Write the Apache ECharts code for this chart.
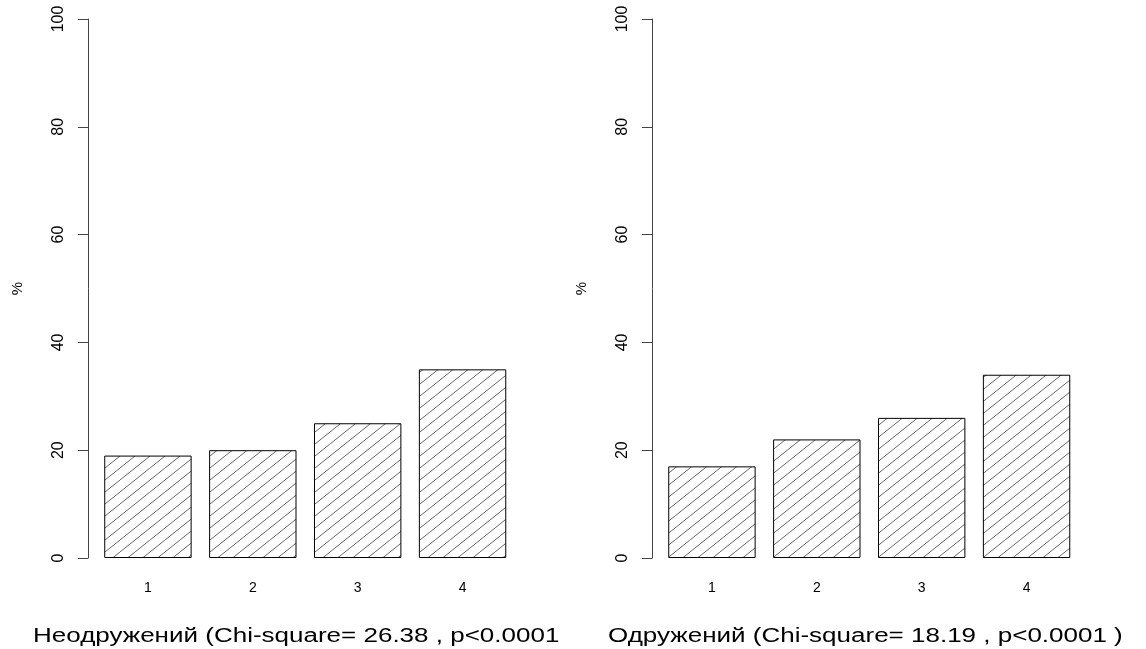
<!DOCTYPE html>
<html><head><meta charset="utf-8">
<script src="https://cdn.jsdelivr.net/npm/echarts@6/dist/echarts.min.js"></script>
<style>html,body{margin:0;padding:0;background:#fff}#c{width:1146px;height:649px}</style>
</head><body><div id="c"></div>
<script>
const categories = ['1', '2', '3', '4'];
const singleValues = [19, 20, 25, 35];
const marriedValues = [17, 22, 26, 34];
const yTicks = [0, 20, 40, 60, 80, 100];
const titleLeft = 'Неодружений (Chi-square= 26.38 , p<0.0001';
const titleRight = 'Одружений (Chi-square= 18.19 , p<0.0001 )';
const yName = '%';

function hatch() {
  const w = 15, h = 12;
  const c = document.createElement('canvas');
  c.width = w; c.height = h;
  const g = c.getContext('2d');
  g.strokeStyle = '#555';
  g.lineWidth = 0.9;
  g.beginPath();
  g.moveTo(0, h); g.lineTo(w, 0);
  g.moveTo(-w, h); g.lineTo(0, 0);
  g.moveTo(w, h); g.lineTo(2 * w, 0);
  g.stroke();
  return c;
}
const pat = hatch();
const font = 'Liberation Sans, Arial, sans-serif';
const narrow = '"Liberation Sans Narrow", "Arial Narrow", "Liberation Sans", sans-serif';

function yAx(i) {
  return {
    gridIndex: i, type: 'value', min: 0, max: 100, interval: 20, offset: 7.5,
    axisLine: { show: true, lineStyle: { color: '#444', width: 1 } },
    axisTick: { show: true, length: 10, lineStyle: { color: '#444' } },
    splitLine: { show: false },
    axisLabel: { rotate: 90, margin: 21, color: '#000', fontSize: 16, fontFamily: narrow,
      formatter: v => yTicks.includes(v) ? String(v) : '' },
    name: yName, nameLocation: 'middle', nameGap: 63, nameRotate: 90,
    nameTextStyle: { color: '#000', fontSize: 15, fontFamily: narrow }
  };
}
function xAx(i) {
  return {
    gridIndex: i, type: 'category', data: categories,
    axisLine: { show: false }, axisTick: { show: false },
    axisLabel: { margin: 23, color: '#000', fontSize: 14, fontFamily: font }
  };
}
function ser(i, d) {
  return {
    type: 'bar', xAxisIndex: i, yAxisIndex: i, data: d, barWidth: 87.4,
    itemStyle: { color: { image: pat, repeat: 'repeat' }, borderColor: '#000', borderWidth: 1 },
    silent: true
  };
}
function titleText(txt, x) {
  return {
    type: 'text', x: x, y: 636, scaleX: 1.3, silent: true,
    style: { text: txt, fill: '#000', font: '20px ' + font, verticalAlign: 'middle', align: 'left' }
  };
}
const chart = echarts.init(document.getElementById('c'), null, { renderer: 'canvas' });
chart.setOption({
  animation: false,
  grid: [
    { left: 95.5, width: 419.5, top: 19, height: 539 },
    { left: 659.5, width: 419.5, top: 19, height: 539 }
  ],
  xAxis: [xAx(0), xAx(1)],
  yAxis: [yAx(0), yAx(1)],
  graphic: [titleText(titleLeft, 33), titleText(titleRight, 608)],
  series: [ser(0, singleValues), ser(1, marriedValues)]
});
</script></body></html>
